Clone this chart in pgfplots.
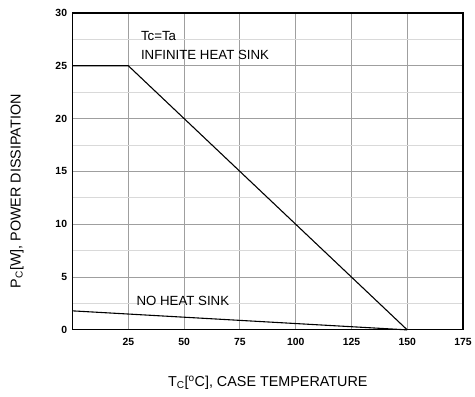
\documentclass[border=0pt]{standalone}
\usepackage{pgfplots}
\pgfplotsset{compat=1.18}
\usepackage{fontspec}
\setmainfont{Liberation Sans}
\begin{document}
\begin{tikzpicture}[x=1bp,y=1bp]
\begin{axis}[
  scale only axis,
  width=393bp, height=319bp,
  xmin=0, xmax=175, ymin=0, ymax=30,
  xtick={25,50,...,175},
  ytick={0,5,...,30},
  minor ytick={2.5,7.5,...,27.5},
  grid=both,
  major grid style={gray!75, line width=0.8pt},
  minor grid style={gray!30, line width=0.8pt},
  major tick length=0pt, minor tick length=0pt,
  axis line style={black, line width=1.2pt},
  tick label style={font=\fontsize{10.5}{11}\selectfont\bfseries},
  /pgf/number format/assume math mode=true,
  xticklabel style={yshift=-5bp},
  yticklabel style={xshift=-2bp},
  clip=false,
]
\addplot[black, line width=1.1pt] coordinates {(0,25) (25,25) (150,0)};
\addplot[black, line width=1.1pt] coordinates {(0,1.8) (150,0)};
\node[anchor=west, inner sep=0pt, font=\fontsize{13.4}{14}\selectfont] at (axis cs:30.6,27.8) {Tc=Ta};
\node[anchor=west, inner sep=0pt, font=\fontsize{13.4}{14}\selectfont] at (axis cs:30.6,26.0) {INFINITE HEAT SINK};
\node[anchor=west, inner sep=0pt, font=\fontsize{13.4}{14}\selectfont] at (axis cs:28.6,2.7) {NO HEAT SINK};
\node[anchor=center, inner sep=0pt, font=\fontsize{14.5}{15}\selectfont] at ([yshift=-53bp]rel axis cs:0.5,0) {T\textsubscript{C}[\textsuperscript{o}C], CASE TEMPERATURE};
\node[anchor=center, rotate=90, inner sep=0pt, font=\fontsize{14.5}{15}\selectfont] at ([xshift=-56bp,yshift=-20bp]rel axis cs:0,0.5) {P\textsubscript{C}[W], POWER DISSIPATION};
\path[draw=none] ([xshift=-73bp,yshift=-67bp]rel axis cs:0,0) rectangle ([xshift=9.5bp,yshift=13bp]rel axis cs:1,1);
\end{axis}
\end{tikzpicture}
\end{document}
